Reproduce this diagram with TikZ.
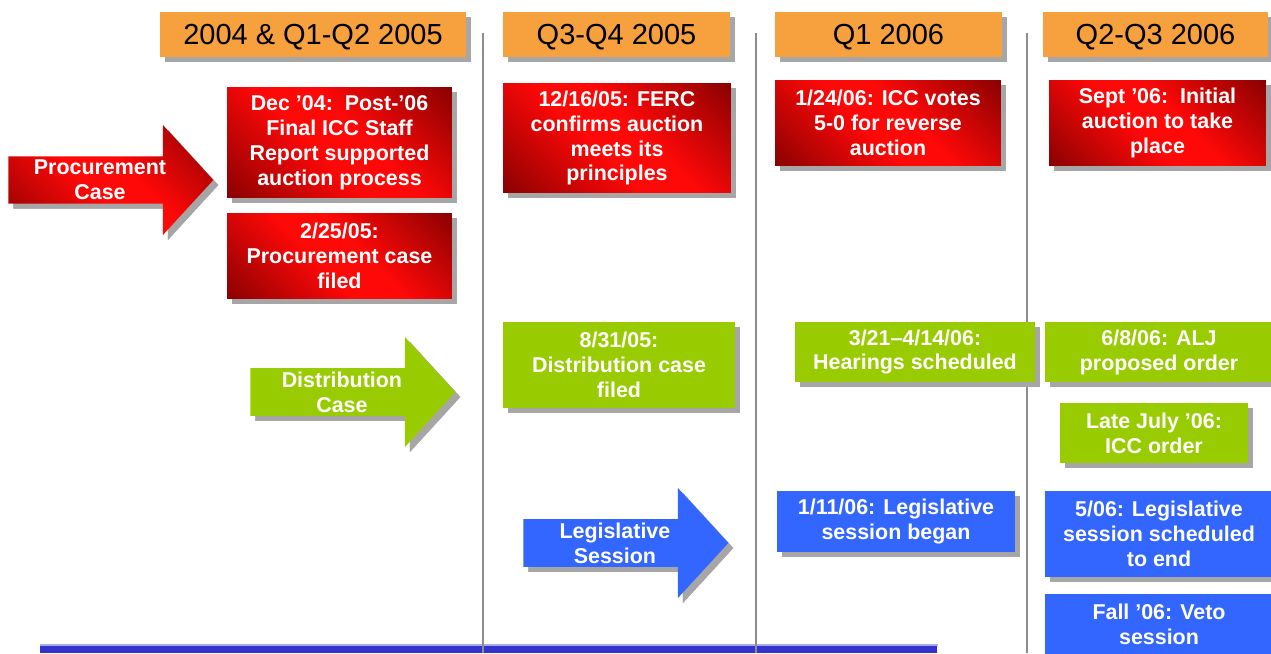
\documentclass[tikz,border=0pt]{standalone}
\usepackage{fontspec}
\setmainfont{Liberation Sans}
\usetikzlibrary{
	shapes.arrows,
	shadows,
	positioning,
}
\definecolor{hdrorange}{HTML}{F6A03E}
\definecolor{evred}{HTML}{FF0808}
\definecolor{evreddark}{HTML}{780000}
\definecolor{evgreen}{HTML}{99CC00}
\definecolor{evblue}{HTML}{3366FF}
\definecolor{barblue}{HTML}{3333CC}
\definecolor{barline}{HTML}{A9A9F0}
\pgfdeclarehorizontalshading{redfade}{100bp}{color(0bp)=(evreddark); color(10bp)=(evreddark); color(44bp)=(evred); color(56bp)=(evred); color(90bp)=(evreddark); color(100bp)=(evreddark)}
\tikzset{
	shadowed/.style={drop shadow={shadow xshift=0.1cm,shadow yshift=-0.1cm,fill=black!35,opacity=1}},
	period/.style={shadowed,fill=hdrorange,inner sep=0pt,minimum height=0.9cm,text depth=0pt,font=\fontsize{16.5}{19}\selectfont},
	event/.style={shadowed,inner sep=0pt,align=center,text=white,font=\bfseries\fontsize{12.2}{14.2}\selectfont},
	redevent/.style={event,shading=redfade,shading angle=45},
	greenevent/.style={event,fill=evgreen},
	blueevent/.style={event,fill=evblue},
	casearrow/.style={event,single arrow,minimum height=4.1cm,minimum width=2.2cm,
		single arrow head extend=0.54cm,single arrow tip angle=95,anchor=tail},
	divider/.style={draw=black!45,line width=1pt},
}
\begin{document}
\begin{tikzpicture}[x=0.02cm,y=-0.02cm]
\useasboundingbox (0,0) rectangle (1271,653);
\node[fill=barblue,inner sep=0pt,minimum width=17.94cm,minimum height=0.16cm,anchor=north west] (bar) at (40,645) {};
\draw[barline,line width=0.6pt] (bar.north west) -- (bar.north east);
\foreach \x in {483,756,1027}
	\draw[divider] (\x,33) -- (\x,653);
\node[period,minimum width=6.12cm] (p1) at (313,34.5) {2004 \& Q1-Q2 2005};
\node[period,minimum width=4.54cm] (p2) at (616.5,34.5) {Q3-Q4 2005};
\node[period,minimum width=4.54cm] (p3) at (888.5,34.5) {Q1 2006};
\node[period,minimum width=4.5cm] (p4) at (1155.5,34.5) {Q2-Q3 2006};
\node[casearrow,redevent] (proc) at (8,180) {Procurement\\Case};
\node[casearrow,greenevent] (dist) at (250,392) {Distribution\\Case};
\node[casearrow,blueevent] (legis) at (523,543) {Legislative\\Session};
\node[redevent,minimum width=4.5cm,minimum height=2.22cm] (r1) at (339.5,142.5) {Dec ’04:\ \ Post-’06\\Final ICC Staff\\Report supported\\auction process};
\node[redevent,minimum width=4.5cm,minimum height=1.72cm] (r2) at (339.5,256) {2/25/05:\\Procurement case\\filed};
\node[redevent,minimum width=4.56cm,minimum height=2.2cm] (r3) at (617,138) {12/16/05: FERC\\confirms auction\\meets its\\principles};
\node[redevent,minimum width=4.52cm,minimum height=1.72cm] (r4) at (888,123) {1/24/06: ICC votes\\5-0 for reverse\\auction};
\node[redevent,minimum width=4.34cm,minimum height=1.72cm] (r5) at (1157.5,123) {Sept ’06:\ \ Initial\\auction to take\\place};
\node[greenevent,minimum width=4.64cm,minimum height=1.72cm] (g1) at (619,365) {8/31/05:\\Distribution case\\filed};
\node[greenevent,minimum width=4.8cm,minimum height=1.2cm] (g2) at (915,352) {3/21--4/14/06:\\Hearings scheduled};
\node[greenevent,minimum width=4.56cm,minimum height=1.2cm] (g3) at (1159,352) {6/8/06: ALJ\\proposed order};
\node[greenevent,minimum width=3.76cm,minimum height=1.2cm] (g4) at (1154,433) {Late July ’06:\\ICC order};
\node[blueevent,minimum width=4.76cm,minimum height=1.22cm] (b1) at (896,521.5) {1/11/06: Legislative\\session began};
\node[blueevent,minimum width=4.56cm,minimum height=1.72cm] (b2) at (1159,534) {5/06: Legislative\\session scheduled\\to end};
\node[blueevent,minimum width=4.56cm,minimum height=1.2cm] (b3) at (1159,624) {Fall ’06: Veto\\session};
\end{tikzpicture}
\end{document}
